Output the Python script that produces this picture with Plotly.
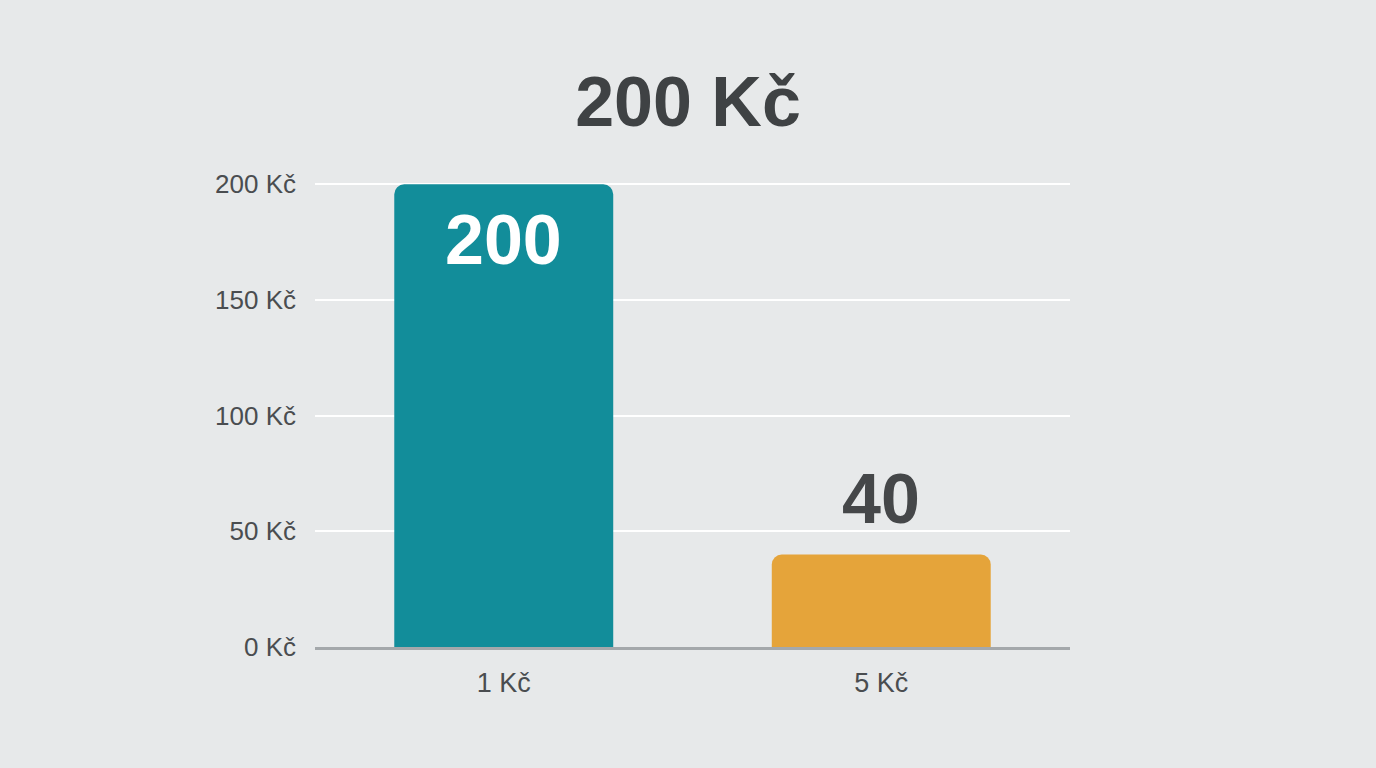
import plotly.graph_objects as go

categories = ["1 Kč", "5 Kč"]
values = [200, 40]
bar_colors = ["#128D9A", "#E5A43A"]
tick_vals = [0, 50, 100, 150, 200]
tick_text = ["0 Kč", "50 Kč", "100 Kč", "150 Kč", "200 Kč"]
chart_title = "200 Kč"

font = "Liberation Sans, Arial, sans-serif"

fig = go.Figure(go.Bar(
    x=categories, y=values,
    marker=dict(color=bar_colors, line=dict(width=0)),
    hoverinfo="skip",
))

# value labels: first inside the bar top (white), second above its bar (dark)
fig.add_annotation(x=categories[0], y=values[0], text="<b>%d</b>" % values[0],
                   showarrow=False, yanchor="top", yshift=-15,
                   font=dict(family=font, size=70, color="white"))
fig.add_annotation(x=categories[1], y=values[1], text="<b>%d</b>" % values[1],
                   showarrow=False, yanchor="bottom", yshift=14,
                   font=dict(family=font, size=70, color="#454749"))

fig.update_layout(
    width=1376, height=768,
    margin=dict(l=315, r=306, t=182, b=121),
    paper_bgcolor="#E7E9EA", plot_bgcolor="rgba(0,0,0,0)",
    bargap=0.42, barcornerradius=10, showlegend=False,
    title=dict(text="<b>%s</b>" % chart_title, x=0.5, xanchor="center",
               y=1 - 101 / 768, yanchor="middle",
               font=dict(family=font, size=70, color="#3F4244")),
    font=dict(family=font, color="#4A4D50"),
)
fig.update_yaxes(range=[0, 201], tickvals=tick_vals, ticktext=tick_text,
                 showgrid=True, gridcolor="#FFFFFF", gridwidth=1.5,
                 zeroline=False, showline=False, ticklabelstandoff=18,
                 tickfont=dict(size=26, color="#4A4D50"))
fig.update_xaxes(showline=True, linecolor="#A4A8AB", linewidth=3,
                 showgrid=False, ticklabelstandoff=10,
                 tickfont=dict(size=27, color="#4A4D50"))

fig.write_html("out.html", config={"displayModeBar": False},
               post_script="document.body.style.margin='0';")
